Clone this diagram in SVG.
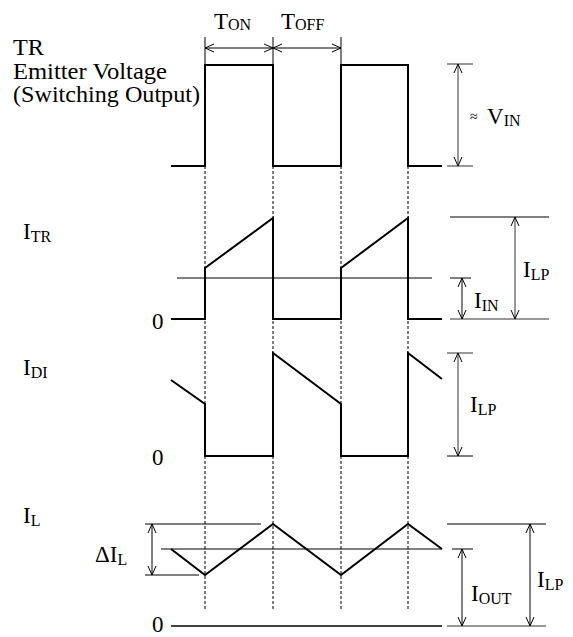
<svg xmlns="http://www.w3.org/2000/svg" width="573" height="637" viewBox="0 0 573 637">
<style>
text{font-family:'Liberation Serif','DejaVu Serif',serif;font-size:23px;fill:#000}
.sub{font-size:16px}
.wave{fill:none;stroke:#000;stroke-width:2;stroke-linejoin:miter}
.thin{fill:none;stroke:#000;stroke-width:1}
.gthin{fill:none;stroke:#777;stroke-width:1.5}
.dash{fill:none;stroke:#000;stroke-width:1;stroke-dasharray:3,2}
.arr{fill:none;stroke:#000;stroke-width:1;marker-start:url(#ab);marker-end:url(#ab)}
.garr{fill:none;stroke:#777;stroke-width:1.5;marker-start:url(#ag);marker-end:url(#ag)}
</style>
<defs>
<marker id="ab" viewBox="0 0 10 10" refX="10" refY="5" markerWidth="10" markerHeight="10" markerUnits="userSpaceOnUse" orient="auto-start-reverse"><path d="M1,1 L10,5 L1,9" fill="none" stroke="#000" stroke-width="1"/></marker>
<marker id="ag" viewBox="0 0 10 10" refX="10" refY="5" markerWidth="10" markerHeight="10" markerUnits="userSpaceOnUse" orient="auto-start-reverse"><path d="M1,1 L10,5 L1,9" fill="none" stroke="#000" stroke-width="1"/></marker>
</defs>
<g id="connectors">
<path class="dash" d="M205,166V609M273,166V609M341,166V609M408,166V609"/>
<path class="thin" d="M205,37V65M273,37V65M341,37V65"/>
<path class="arr" d="M205,48H273"/>
<path class="arr" d="M273,48H341"/>
<path class="thin" d="M177,278H432"/>
<path class="thin" d="M161,549H442"/>
<path class="thin" d="M145,524H261M145,575H199"/>
<path class="arr" d="M152,524V575"/>
</g>
<g id="labels-left">
<text x="13" y="55" textLength="31" lengthAdjust="spacingAndGlyphs">TR</text>
<text x="13" y="79" textLength="154" lengthAdjust="spacingAndGlyphs">Emitter Voltage</text>
<text x="13" y="102" textLength="187" lengthAdjust="spacingAndGlyphs">(Switching Output)</text>
<text x="214" y="29">T<tspan class="sub" dy="1">ON</tspan></text>
<text x="281" y="29">T<tspan class="sub" dy="1">OFF</tspan></text>
</g>
<g id="vsw">
<path class="wave" d="M171,166H205V65H273V166H341V65H408V166H442"/>
<path class="gthin" d="M447,64H473M447,166H473"/>
<path class="garr" d="M458,64V166"/>
<text x="470" y="121" style="font-size:14px">≈</text>
<text x="487" y="124">V<tspan class="sub" dy="2">IN</tspan></text>
</g>
<g id="itr">
<text x="23" y="239">I<tspan class="sub" dy="3">TR</tspan></text>
<text x="152" y="329">0</text>
<path class="wave" d="M171,319H205V268L273,218V319H341V268L408,218V319H442"/>
<path class="thin" d="M450,217H549"/>
<path class="gthin" d="M450,319H549"/>
<path class="thin" d="M450,278H471"/>
<path class="arr" d="M462,278V319"/>
<path class="garr" d="M515,217V319"/>
<text x="474" y="308">I<tspan class="sub" dy="3">IN</tspan></text>
<text x="523" y="277">I<tspan class="sub" dy="3">LP</tspan></text>
</g>
<g id="idi">
<text x="23" y="375">I<tspan class="sub" dy="3">DI</tspan></text>
<text x="152" y="465">0</text>
<path class="wave" d="M171,380L205,404V456H273V353L341,404V456H408V353L442,379"/>
<path class="gthin" d="M447,353H473"/>
<path class="thin" d="M447,456H473"/>
<path class="garr" d="M458,353V456"/>
<text x="470" y="412">I<tspan class="sub" dy="3">LP</tspan></text>
</g>
<g id="il">
<text x="23" y="523">I<tspan class="sub" dy="3">L</tspan></text>
<text x="95" y="562">ΔI<tspan class="sub" dy="3">L</tspan></text>
<text x="152" y="632">0</text>
<path class="wave" d="M171,549L205,575L273,524L341,575L408,524L442,549"/>
<path class="wave" d="M171,626H442" style="stroke-width:1.5"/>
<path class="thin" d="M447,524H546M452,549H473"/>
<path class="gthin" d="M447,626H546"/>
<path class="arr" d="M462,549V626"/>
<path class="arr" d="M530,524V626"/>
<text x="471" y="601">I<tspan class="sub" dy="3">OUT</tspan></text>
<text x="537" y="587">I<tspan class="sub" dy="3">LP</tspan></text>
</g>
</svg>
